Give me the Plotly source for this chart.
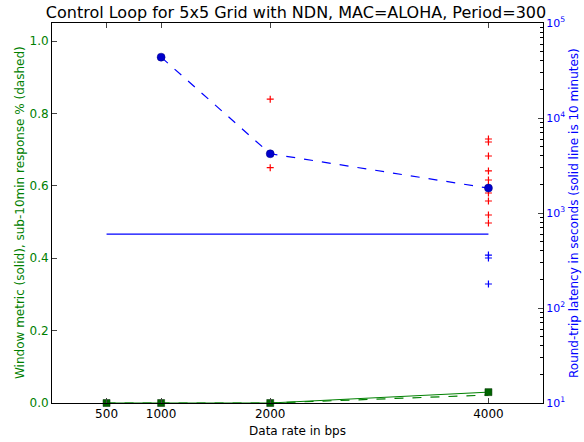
import plotly.graph_objects as go

# ---- data ----
rates = [500, 1000, 2000, 4000]
window_metric = [0.0, 0.0, 0.0, 0.03]
sub10_pct = [0.0, 0.0, 0.0, 0.022]

lat_rates = [1000, 2000, 4000]
lat_central = [43700, 4200, 1830]

ten_min_rates = [500, 1000, 2000, 4000]
ten_min = [600, 600, 600, 600]

red_x = [2000, 2000, 4000, 4000, 4000, 4000, 4000, 4000, 4000, 4000, 4000, 4000]
red_y = [15800, 3000, 6010, 5590, 3980, 2770, 2225, 1900, 1624, 1337, 953, 785]

blue_x = [4000, 4000, 4000]
blue_y = [361, 336, 179]

x_ticks = [500, 1000, 2000, 4000]
y_ticks = [0.0, 0.2, 0.4, 0.6, 0.8, 1.0]
y2_ticks = [10, 100, 1000, 10000, 100000]
y2_text = ["10<sup>1</sup>", "10<sup>2</sup>", "10<sup>3</sup>", "10<sup>4</sup>", "10<sup>5</sup>"]
y2_minor = [m * d for d in (10, 100, 1000, 10000) for m in range(2, 10)]

GREEN = "#008000"
BLUE = "#0000ff"
RED = "#ff0000"
FONT = "DejaVu Sans"

fig = go.Figure()

fig.add_trace(go.Scatter(x=red_x, y=red_y, yaxis="y2", mode="markers",
                         marker=dict(symbol="cross-thin", size=5, color=RED,
                                     line=dict(color=RED, width=1.2)),
                         showlegend=False))
fig.add_trace(go.Scatter(x=blue_x, y=blue_y, yaxis="y2", mode="markers",
                         marker=dict(symbol="cross-thin", size=5, color=BLUE,
                                     line=dict(color=BLUE, width=1.2)),
                         showlegend=False))
fig.add_trace(go.Scatter(x=ten_min_rates, y=ten_min, yaxis="y2", mode="lines",
                         line=dict(color=BLUE, width=1.2), showlegend=False))
fig.add_trace(go.Scatter(x=lat_rates, y=lat_central, yaxis="y2", mode="lines+markers",
                         line=dict(color=BLUE, width=1.2, dash="dash"),
                         marker=dict(symbol="circle", size=8, color="#0000cc",
                                     line=dict(color="#000080", width=0.5)),
                         showlegend=False))
fig.add_trace(go.Scatter(x=rates, y=sub10_pct, mode="lines",
                         line=dict(color=GREEN, width=1.2, dash="dash"),
                         showlegend=False, cliponaxis=False))
fig.add_trace(go.Scatter(x=rates, y=window_metric, mode="lines+markers",
                         line=dict(color=GREEN, width=1.0),
                         marker=dict(symbol="square", size=7, color="#006400",
                                     line=dict(color="#003000", width=0.5)),
                         showlegend=False, cliponaxis=False))

fig.update_layout(
    width=584, height=442,
    margin=dict(l=52, r=41, t=23, b=39, autoexpand=False),
    paper_bgcolor="white", plot_bgcolor="white",
    font=dict(family=FONT, size=12, color="black"),
    title=dict(text="Control Loop for 5x5 Grid with NDN, MAC=ALOHA, Period=300",
               x=296 / 584, xanchor="center", y=1 - 12 / 442, yanchor="middle",
               font=dict(size=16, family=FONT, color="black")),
    xaxis=dict(range=[0, 4500], tickvals=x_ticks, ticks="inside", ticklen=5,
               showline=True, linecolor="black", linewidth=1, mirror="ticks",
               showgrid=False, zeroline=False, automargin=False,
               tickfont=dict(size=12, color="black"),
               title=dict(text="Data rate in bps", font=dict(size=12), standoff=6)),
    yaxis=dict(range=[0, 1.05], tickvals=y_ticks, tickformat=".1f", ticks="inside",
               ticklen=5, showline=True, linecolor="black", linewidth=1,
               showgrid=False, zeroline=False, automargin=False,
               tickfont=dict(size=12, color=GREEN)),
    yaxis2=dict(type="log", range=[1, 5], overlaying="y", side="right",
                tickvals=y2_ticks, ticktext=y2_text, ticks="inside", ticklen=5,
                minor=dict(tickvals=y2_minor, ticks="inside", ticklen=3,
                           tickcolor="black", showgrid=False),
                showline=True, linecolor="black", linewidth=1,
                showgrid=False, zeroline=False, automargin=False,
                tickfont=dict(size=11, color=BLUE)),
    annotations=[
        dict(text="Window metric (solid), sub-10min response % (dashed)",
             xref="paper", yref="paper", x=(20 - 52) / 491, y=0.5,
             xanchor="center", yanchor="middle", textangle=-90, showarrow=False,
             font=dict(size=12, color=GREEN, family=FONT)),
        dict(text="Round-trip latency in seconds (solid line is 10 minutes)",
             xref="paper", yref="paper", x=(574 - 52) / 491, y=0.5,
             xanchor="center", yanchor="middle", textangle=-90, showarrow=False,
             font=dict(size=12, color=BLUE, family=FONT)),
    ],
)

fig.write_html("out.html")
